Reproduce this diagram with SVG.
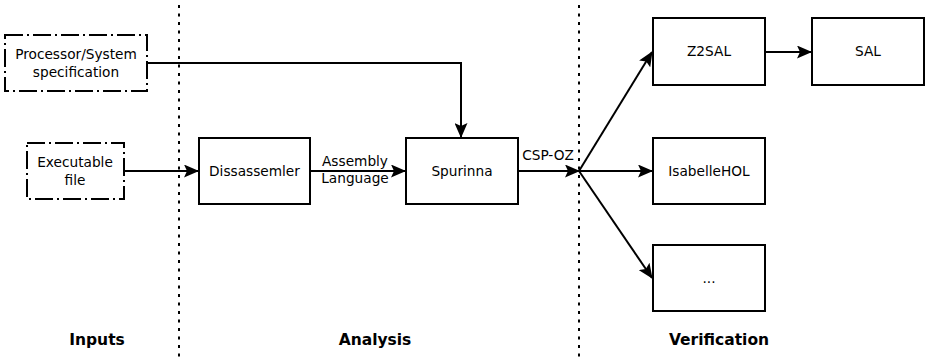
<svg xmlns="http://www.w3.org/2000/svg" width="926" height="362" viewBox="0 0 926 362">
  <style>
    .box { fill: #fff; stroke: #000; stroke-width: 2; }
    .input { fill: #fff; stroke: #000; stroke-width: 2; stroke-dasharray: 18 4 2 4; }
    .sep { stroke: #000; stroke-width: 2; stroke-dasharray: 3 5.5; }
    .conn { fill: none; stroke: #000; stroke-width: 2; }
    text { font-family: "DejaVu Sans", sans-serif; font-size: 13.7px; fill: #000; text-anchor: middle; }
    .head { font-weight: bold; font-size: 15.5px; }
  </style>
  <defs>
    <marker id="arrow" viewBox="0 0 15 13" refX="14" refY="6.5" markerWidth="15" markerHeight="13" markerUnits="userSpaceOnUse" orient="auto">
      <path d="M0,0 L15,6.5 L0,13 L3,6.5 Z" fill="#000"/>
    </marker>
  </defs>

  <!-- column separators -->
  <g id="separators">
    <line class="sep" x1="179" y1="5" x2="179" y2="362"/>
    <line class="sep" x1="579" y1="5" x2="579" y2="362"/>
  </g>

  <!-- connectors -->
  <g id="connectors">
    <polyline class="conn" points="147,63 461,63 461,137" marker-end="url(#arrow)"/>
    <line class="conn" x1="124" y1="171" x2="198" y2="171" marker-end="url(#arrow)"/>
    <line class="conn" x1="310" y1="171" x2="405" y2="171" marker-end="url(#arrow)"/>
    <line class="conn" x1="518" y1="171" x2="579" y2="171" marker-end="url(#arrow)"/>
    <line class="conn" x1="579" y1="171" x2="652" y2="52" marker-end="url(#arrow)"/>
    <line class="conn" x1="579" y1="171" x2="652" y2="171" marker-end="url(#arrow)"/>
    <line class="conn" x1="579" y1="171" x2="652" y2="278" marker-end="url(#arrow)"/>
    <line class="conn" x1="765" y1="52" x2="811" y2="52" marker-end="url(#arrow)"/>
    <text x="355" y="166">Assembly</text>
    <text x="355" y="183">Language</text>
    <text x="548" y="160">CSP-OZ</text>
  </g>

  <g id="spec">
    <rect class="input" x="5" y="35" width="142" height="56"/>
    <text x="76" y="59">Processor/System</text>
    <text x="76" y="77">specification</text>
  </g>
  <g id="executable">
    <rect class="input" x="27" y="143" width="97" height="56"/>
    <text x="75" y="167">Executable</text>
    <text x="75" y="185">file</text>
  </g>
  <g id="disassembler">
    <rect class="box" x="199" y="138" width="111" height="66"/>
    <text x="254.5" y="176">Dissassemler</text>
  </g>
  <g id="spurinna">
    <rect class="box" x="406" y="138" width="112" height="66"/>
    <text x="462" y="176">Spurinna</text>
  </g>
  <g id="z2sal">
    <rect class="box" x="653" y="18" width="112" height="67"/>
    <text x="709" y="56">Z2SAL</text>
  </g>
  <g id="sal">
    <rect class="box" x="812" y="18" width="112" height="67"/>
    <text x="868" y="56">SAL</text>
  </g>
  <g id="isabelle">
    <rect class="box" x="653" y="138" width="112" height="66"/>
    <text x="709" y="176">IsabelleHOL</text>
  </g>
  <g id="other">
    <rect class="box" x="653" y="245" width="112" height="66"/>
    <text x="709" y="283">...</text>
  </g>

  <g id="headings">
    <text class="head" x="97" y="345">Inputs</text>
    <text class="head" x="375" y="345">Analysis</text>
    <text class="head" x="719" y="345">Verification</text>
  </g>
</svg>
